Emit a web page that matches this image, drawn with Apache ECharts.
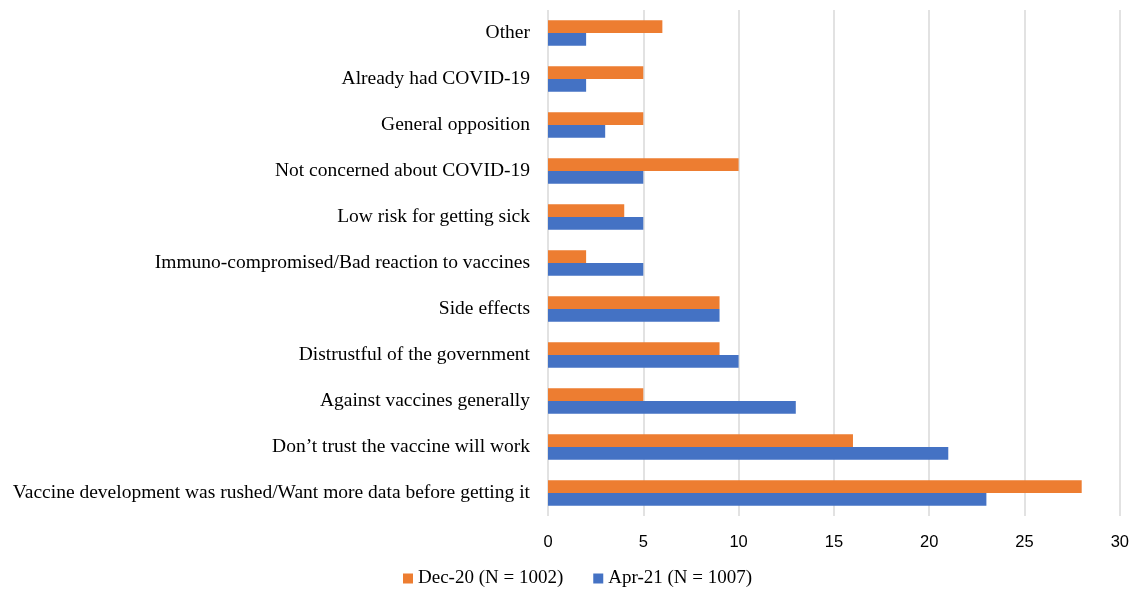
<!DOCTYPE html>
<html><head><meta charset="utf-8">
<script src="https://cdn.jsdelivr.net/npm/echarts@6/dist/echarts.min.js"></script>
<style>html,body{margin:0;padding:0;background:#fff}#c{width:1132px;height:593px}</style>
</head><body><div id="c"></div>
<script>
const categories = [
  "Vaccine development was rushed/Want more data before getting it",
  "Don\u2019t trust the vaccine will work",
  "Against vaccines generally",
  "Distrustful of the government",
  "Side effects",
  "Immuno-compromised/Bad reaction to vaccines",
  "Low risk for getting sick",
  "Not concerned about COVID-19",
  "General opposition",
  "Already had COVID-19",
  "Other"
];
const dec20 = [28, 16, 5, 9, 9, 2, 4, 10, 5, 5, 6];
const apr21 = [23, 21, 13, 10, 9, 5, 5, 5, 3, 2, 2];
const seriesNames = ["Dec-20 (N = 1002)", "Apr-21 (N = 1007)"];
const xTicks = [0, 5, 10, 15, 20, 25, 30];

const chart = echarts.init(document.getElementById('c'));
chart.setOption({
  animation: false,
  grid: {left: 548, right: 12, top: 10, bottom: 77, containLabel: false},
  legend: {
    bottom: 0, left: 398, itemWidth: 10, itemHeight: 10, itemGap: 30, icon: 'rect',
    textStyle: {fontFamily: 'Liberation Serif', fontSize: 19, color: '#000'},
    data: seriesNames
  },
  xAxis: {
    type: 'value', min: xTicks[0], max: xTicks[xTicks.length-1], interval: 5,
    axisLine: {show: false}, axisTick: {show: false},
    splitLine: {lineStyle: {color: '#d9d9d9', width: 1.5}},
    axisLabel: {fontFamily: 'Liberation Sans', fontSize: 16.5, color: '#000', margin: 18}
  },
  yAxis: {
    type: 'category', data: categories,
    axisLine: {show: false}, axisTick: {show: false},
    axisLabel: {fontFamily: 'Liberation Serif', fontSize: 19.5, color: '#000', margin: 18, padding: [3, 0, 0, 0]}
  },
  series: [
    {name: seriesNames[0], type: 'bar', data: dec20, itemStyle: {color: '#ED7D31'}, barGap: '0%', barCategoryGap: '45%'},
    {name: seriesNames[1], type: 'bar', data: apr21, itemStyle: {color: '#4472C4'}, barGap: '0%', barCategoryGap: '45%'}
  ]
});
</script></body></html>
